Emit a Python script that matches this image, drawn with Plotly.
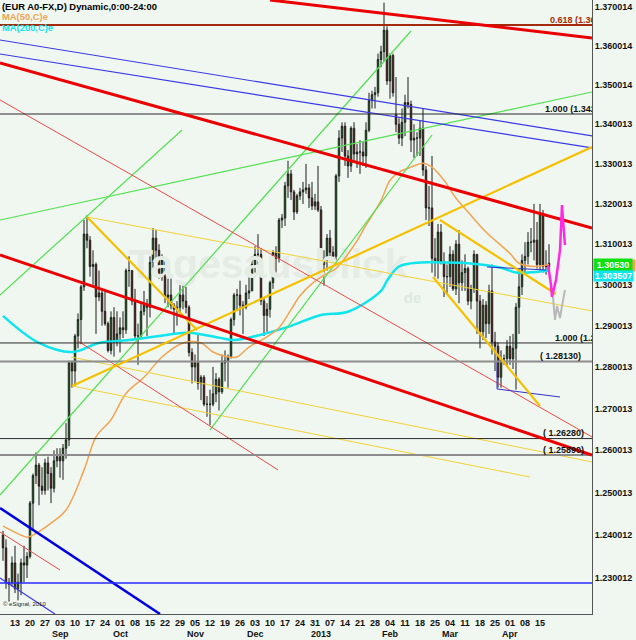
import numpy as np
import pandas as pd
import plotly.graph_objects as go

# ---------------- DATA ----------------
dates = pd.bdate_range("2012-08-08", "2013-04-19")   # daily EUR/USD candles

opens = [
    # Aug
    1.2400,1.2370,1.2290,1.2290,1.2335,1.2275,1.2290,1.2335,1.2330,1.2350,1.2475,1.2540,1.2565,1.2515,1.2505,1.2570,1.2545,1.2510,
    # Sep
    1.2575,1.2585,1.2575,1.2605,1.2625,1.2810,1.2790,1.2875,1.2915,1.2995,1.3125,1.3110,1.3045,1.3050,1.2970,1.2980,1.2935,1.2905,1.2840,1.2920,
    # Oct
    1.2860,1.2880,1.2895,1.2890,1.3035,1.3035,1.2960,1.2875,1.2875,1.2935,1.2950,1.2945,1.3055,1.3115,1.3085,1.3025,1.3060,1.2970,1.2975,1.2950,1.2940,1.2945,1.2975,
    # Nov
    1.2960,1.2945,1.2835,1.2800,1.2810,1.2760,1.2775,1.2710,1.2710,1.2710,1.2735,1.2770,1.2740,1.2810,1.2815,1.2825,1.2915,1.2975,1.2975,1.2950,1.2945,1.2980,
    # Dec
    1.2985,1.3050,1.3075,1.3075,1.2960,1.2925,1.2940,1.3005,1.3080,1.3065,1.3160,1.3165,1.3245,1.3275,1.3230,1.3180,1.3220,1.3230,1.3235,1.3240,1.3215,
    # Jan + Feb 1
    1.3195,1.3205,1.3185,1.3050,1.3065,1.3115,1.3080,1.3070,1.3270,1.3365,1.3395,1.3320,1.3295,1.3390,1.3325,1.3330,1.3330,1.3320,1.3385,1.3460,1.3475,1.3480,1.3565,1.3585,
    # Feb (from 4th) + Mar 1
    1.3640,1.3510,1.3575,1.3425,1.3400,1.3365,1.3405,1.3455,1.3450,1.3360,1.3365,1.3365,1.3390,1.3285,1.3190,1.3190,1.3065,1.3055,1.3130,1.3055,
    # Mar (from 4th)
    1.3020,1.3020,1.3075,1.2990,1.3100,1.3005,1.3030,1.3040,1.2960,1.2990,1.3075,1.2960,1.2885,1.2950,1.2905,1.2985,1.2860,1.2850,1.2775,1.2820,
    # Apr
    1.2820,1.2850,1.2820,1.2845,1.2945,1.2995,1.3060,1.3070,1.3105,1.3105,1.3110,1.3050,1.3175,1.3045,1.3045,
]
highs = [
    1.2410,1.2390,1.2300,1.2350,1.2375,1.2310,1.2345,1.2375,1.2360,1.2480,1.2545,1.2595,1.2570,1.2560,1.2580,1.2585,1.2560,1.2600,
    1.2605,1.2605,1.2615,1.2665,1.2815,1.2815,1.2880,1.2930,1.3000,1.3160,1.3172,1.3120,1.3085,1.3055,1.3035,1.2985,1.2990,1.2910,1.2935,1.2945,
    1.2935,1.2920,1.2935,1.3040,1.3070,1.3035,1.2990,1.2905,1.2955,1.2985,1.2965,1.3070,1.3140,1.3135,1.3100,1.3075,1.3060,1.3015,1.3015,1.2955,1.2960,1.3000,1.3000,
    1.2995,1.2950,1.2845,1.2830,1.2880,1.2780,1.2780,1.2730,1.2745,1.2800,1.2785,1.2775,1.2830,1.2840,1.2830,1.2920,1.2980,1.2990,1.3010,1.2960,1.3000,1.3020,
    1.3070,1.3095,1.3125,1.3090,1.2970,1.2955,1.3010,1.3085,1.3095,1.3165,1.3175,1.3255,1.3308,1.3285,1.3235,1.3225,1.3240,1.3255,1.3300,1.3250,1.3255,
    1.3225,1.3295,1.3195,1.3085,1.3125,1.3135,1.3095,1.3275,1.3385,1.3405,1.3405,1.3335,1.3395,1.3405,1.3350,1.3360,1.3355,1.3405,1.3480,1.3485,1.3495,1.3580,1.3600,1.3711,
    1.3650,1.3580,1.3580,1.3520,1.3415,1.3440,1.3475,1.3520,1.3460,1.3400,1.3380,1.3410,1.3440,1.3295,1.3245,1.3320,1.3115,1.3150,1.3150,1.3080,
    1.3050,1.3095,1.3085,1.3110,1.3135,1.3060,1.3075,1.3045,1.3000,1.3085,1.3075,1.2975,1.2965,1.2960,1.3000,1.3050,1.2885,1.2860,1.2840,1.2830,
    1.2865,1.2875,1.2880,1.2955,1.3040,1.3075,1.3105,1.3130,1.3140,1.3200,1.3155,1.3200,1.3185,1.3085,1.3100,
]
lows = [
    1.2340,1.2275,1.2245,1.2280,1.2265,1.2248,1.2260,1.2290,1.2300,1.2345,1.2410,1.2520,1.2470,1.2495,1.2495,1.2505,1.2475,1.2500,
    1.2560,1.2535,1.2530,1.2580,1.2610,1.2750,1.2755,1.2845,1.2855,1.2985,1.3090,1.3020,1.3000,1.2880,1.2960,1.2900,1.2900,1.2835,1.2830,1.2825,
    1.2850,1.2835,1.2870,1.2880,1.2995,1.2950,1.2870,1.2805,1.2870,1.2925,1.2875,1.2920,1.3040,1.3060,1.3015,1.3010,1.2955,1.2945,1.2940,1.2880,1.2900,1.2930,1.2940,
    1.2930,1.2825,1.2760,1.2765,1.2745,1.2720,1.2705,1.2680,1.2660,1.2705,1.2715,1.2695,1.2735,1.2765,1.2750,1.2820,1.2900,1.2940,1.2925,1.2880,1.2940,1.2965,
    1.2985,1.3030,1.3050,1.2950,1.2875,1.2885,1.2920,1.2990,1.3030,1.3055,1.3140,1.3145,1.3215,1.3210,1.3160,1.3175,1.3210,1.3200,1.3225,1.3190,1.3185,
    1.3185,1.3180,1.3045,1.2998,1.3035,1.3065,1.3035,1.3050,1.3255,1.3330,1.3295,1.3265,1.3280,1.3305,1.3290,1.3275,1.3295,1.3290,1.3380,1.3440,1.3440,1.3470,1.3545,1.3560,
    1.3500,1.3465,1.3470,1.3380,1.3350,1.3345,1.3370,1.3440,1.3330,1.3315,1.3320,1.3320,1.3270,1.3160,1.3145,1.3030,1.3020,1.3015,1.3050,1.2970,
    1.2975,1.2995,1.2985,1.2975,1.2955,1.2985,1.2985,1.2950,1.2940,1.2980,1.2880,1.2845,1.2865,1.2870,1.2880,1.2830,1.2790,1.2750,1.2750,1.2805,
    1.2800,1.2805,1.2795,1.2745,1.2880,1.2975,1.3025,1.3050,1.3080,1.3060,1.3040,1.3035,1.3030,1.3025,1.3040,
]
closes = [
    1.2370,1.2290,1.2285,1.2335,1.2275,1.2290,1.2335,1.2330,1.2350,1.2475,1.2540,1.2565,1.2515,1.2505,1.2570,1.2545,1.2510,1.2575,
    1.2585,1.2575,1.2605,1.2625,1.2810,1.2790,1.2875,1.2915,1.2995,1.3125,1.3110,1.3045,1.3050,1.2970,1.2980,1.2935,1.2905,1.2840,1.2920,1.2860,
    1.2880,1.2895,1.2890,1.3035,1.3035,1.2960,1.2875,1.2875,1.2935,1.2950,1.2945,1.3055,1.3115,1.3085,1.3025,1.3060,1.2970,1.2975,1.2950,1.2940,1.2945,1.2975,1.2960,
    1.2945,1.2835,1.2800,1.2810,1.2760,1.2775,1.2710,1.2710,1.2710,1.2735,1.2770,1.2740,1.2810,1.2815,1.2825,1.2915,1.2975,1.2975,1.2950,1.2945,1.2980,1.2985,
    1.3050,1.3075,1.3075,1.2960,1.2925,1.2940,1.3005,1.3080,1.3065,1.3160,1.3165,1.3245,1.3275,1.3230,1.3180,1.3220,1.3230,1.3235,1.3240,1.3215,1.3195,
    1.3205,1.3185,1.3050,1.3065,1.3115,1.3080,1.3070,1.3270,1.3365,1.3395,1.3320,1.3295,1.3390,1.3325,1.3330,1.3330,1.3320,1.3385,1.3460,1.3475,1.3480,1.3565,1.3585,1.3640,
    1.3510,1.3575,1.3480,1.3400,1.3365,1.3405,1.3455,1.3450,1.3360,1.3365,1.3365,1.3390,1.3285,1.3190,1.3190,1.3065,1.3055,1.3130,1.3055,1.3020,
    1.3020,1.3075,1.2990,1.3100,1.3005,1.3030,1.3040,1.2960,1.2990,1.3075,1.2960,1.2885,1.2950,1.2905,1.2985,1.2860,1.2850,1.2775,1.2820,1.2820,
    1.2850,1.2820,1.2845,1.2945,1.2995,1.3060,1.3070,1.3105,1.3105,1.3110,1.3050,1.3175,1.3045,1.3045,1.3053,
]

# moving averages (trading-day index from 13 Aug 2012, value)
ma50_idx = [-3, 3, 5, 7, 13, 18, 24, 28, 33, 38, 44, 50, 57, 63, 67, 72, 75, 79, 85, 89, 93,
            96, 100, 105, 108, 114, 118, 123, 126, 129, 133, 137, 140, 144, 148, 152, 158, 166, 169, 174, 179]
ma50_val = [1.2421, 1.2400, 1.2395, 1.2400, 1.2428, 1.2459, 1.2553, 1.2632, 1.2673, 1.2736, 1.2775,
            1.2824, 1.2858, 1.2858, 1.2836, 1.2824, 1.2824, 1.2848, 1.2873, 1.2895, 1.2939, 1.2973,
            1.3003, 1.3028, 1.3040, 1.3097, 1.3147, 1.3208, 1.3259, 1.3279, 1.3292, 1.3302, 1.3292,
            1.3259, 1.3214, 1.3180, 1.3130, 1.3077, 1.3053, 1.3045, 1.3050]
ma200_idx = [-3, 9, 20, 29, 39, 52, 59, 69, 74, 83, 92, 103, 112, 123, 125, 129, 136, 143, 152, 163, 168, 172, 179]
ma200_val = [1.2924, 1.2858, 1.2836, 1.2858, 1.2865, 1.2878, 1.2883, 1.2871, 1.2865, 1.2878, 1.2897,
             1.2926, 1.2934, 1.2985, 1.3010, 1.3045, 1.3055, 1.3055, 1.3053, 1.3042, 1.3030, 1.3030, 1.3035]

# x tick labels (Mondays) and month captions
day_tick_labels = ["13", "20", "27", "03", "10", "17", "24", "01", "08", "15", "22", "29",
                   "05", "12", "19", "26", "03", "10", "17", "24", "31", "07", "14", "21",
                   "28", "04", "11", "18", "25", "04", "11", "18", "25", "01", "08", "15"]
month_labels = ["Sep", "Oct", "Nov", "Dec", "2013", "Feb", "Mar", "Apr"]
month_label_idx = [15, 35, 60, 80, 102, 125, 145, 165]

# y tick labels
y_tick_vals = [1.370014, 1.360014, 1.350014, 1.340013, 1.330013, 1.320013, 1.310013, 1.300013,
               1.290013, 1.280013, 1.270013, 1.260013, 1.250013, 1.240012, 1.230012]
y_tick_text = ["1.370014", "1.360014", "1.350014", "1.340013", "1.330013", "1.320013", "1.310013",
               "1.300013", "1.290013", "1.280013", "1.270013", "1.260013", "1.250013", "1.240012",
               "1.230012"]

# horizontal levels
level_values = [1.36535, 1.34260, 1.28580, 1.28130, 1.26280, 1.25890]
level_texts = ["0.618 (1.36540)", "1.000 (1.34260)", "1.000 (1.28580)", "( 1.28130)", "( 1.26280)", "( 1.25890)"]
level_text_idx = [179.3, 177.7, 181, 176, 177, 177]
blue_level = 1.22884

# trendlines: (trading-day index, price)
red_thick_lines = [[(86, 1.37181), (193.33, 1.36200)],
                   [(-4, 1.35559), (193.33, 1.31401)],
                   [(-4, 1.30733), (193.33, 1.25889)]]
red_thin_lines = [[(-4, 1.34616), (193.33, 1.26318)],
                  [(22, 1.28628), (88.67, 1.25533)],
                  [(-4, 1.24072), (16, 1.23185)]]
blue_thin_lines = [[(-4, 1.36149), (193.33, 1.33704)],
                   [(-4, 1.35790), (193.33, 1.33402)],
                   [(-4, 1.23000), (14.33, 1.22166)]]
blue_thick_lines = [[(-4, 1.24636), (49.33, 1.22166)]]
blue_box_lines = [[(158.33, 1.30438), (178, 1.30364)],
                  [(161.67, 1.28119), (161.67, 1.27468), (182.67, 1.27275)]]
green_lines = [[(-4, 1.31600), (193.33, 1.34819)],
               [(-4, 1.29750), (56.67, 1.33856)],
               [(-4, 1.24942), (133, 1.36381)],
               [(66, 1.26485), (140, 1.33729)]]
gold_thick_lines = [[(20, 1.27540), (193.33, 1.33427)],
                    [(25, 1.31675), (61.67, 1.28895)],
                    [(142.67, 1.31600), (181.3, 1.29774)],
                    [(140.33, 1.30192), (176, 1.27059)]]
gold_thin_lines = [[(25, 1.31675), (193.33, 1.29359)],
                   [(20, 1.27540), (172.67, 1.25367)],
                   [(19.67, 1.28240), (193.33, 1.25723)]]
pink_proj_idx = [178.67, 179.67, 180, 181.33, 182.67, 183.33, 183.67, 184.33]
pink_proj_val = [1.30487, 1.29995, 1.29701, 1.30118, 1.30857, 1.31973, 1.31600, 1.30980]
gray_proj_idx = [180.33, 181, 181.67, 182.67, 183.33, 184.33]
gray_proj_val = [1.29701, 1.29140, 1.29481, 1.29188, 1.29481, 1.29873]

last_close_label = "1.30530"
ma200_label = "1.303507"

# ---------------- FIGURE ----------------
assert len(opens) == len(highs) == len(lows) == len(closes) == len(dates)
x_idx = np.arange(len(dates)) - 3          # 13 Aug 2012 -> 0
X0, X1 = -4, 193.33
FONT = "Liberation Sans, Arial, sans-serif"

fig = go.Figure()

# watermark (behind everything)
fig.add_trace(go.Scatter(x=[85.3], y=[1.3041], mode="text", text=["<b>Tagesausblick</b>"],
                         textfont=dict(size=41, color="#e5ece5", family=FONT),
                         hoverinfo="skip", showlegend=False))
fig.add_trace(go.Scatter(x=[133.5], y=[1.2965], mode="text", text=["<b>de</b>"],
                         textfont=dict(size=15, color="#dfe8df", family=FONT),
                         hoverinfo="skip", showlegend=False))

fig.add_trace(go.Candlestick(
    x=x_idx, open=opens, high=highs, low=lows, close=closes,
    increasing=dict(fillcolor="#10aa10", line=dict(color="#1c1c1c", width=1)),
    decreasing=dict(fillcolor="#a81818", line=dict(color="#1c1c1c", width=1)),
    whiskerwidth=0, hoverinfo="skip", showlegend=False))

def add_line(pts, color, width):
    fig.add_trace(go.Scatter(x=[p[0] for p in pts], y=[p[1] for p in pts], mode="lines",
                             line=dict(color=color, width=width), hoverinfo="skip",
                             showlegend=False))

def add_hline(v, color, width):
    add_line([(X0, v), (X1, v)], color, width)

# moving averages
fig.add_trace(go.Scatter(x=ma200_idx, y=ma200_val, mode="lines", line=dict(color="#10e4ec", width=2.5, shape="spline"),
                         hoverinfo="skip", showlegend=False))
fig.add_trace(go.Scatter(x=ma50_idx, y=ma50_val, mode="lines", line=dict(color="#f2a452", width=1.5, shape="spline"),
                         hoverinfo="skip", showlegend=False))

for pts in gold_thin_lines:
    add_line(pts, "#f2d23a", 1)
for pts in green_lines:
    add_line(pts, "#52e052", 1.2)
for pts in red_thin_lines:
    add_line(pts, "#f04848", 1)
for pts in blue_thin_lines:
    add_line(pts, "#3a3ae6", 1.2)
for pts in blue_box_lines:
    add_line(pts, "#3030c8", 1)
for pts in blue_thick_lines:
    add_line(pts, "#0000e0", 2.5)
add_hline(blue_level, "#2a2aff", 1.5)

# fib / support levels
level_styles = [("#a32a0c", 2), ("#2a2a2a", 1), ("#2a2a2a", 1), ("#8c8c8c", 2), ("#2a2a2a", 1), ("#8c8c8c", 2)]
for v, (c, w) in zip(level_values, level_styles):
    add_hline(v, c, w)

for pts in gold_thick_lines:
    add_line(pts, "#f5c000", 2.2)
for pts in red_thick_lines:
    add_line(pts, "#ea0000", 3)

fig.add_trace(go.Scatter(x=gray_proj_idx, y=gray_proj_val, mode="lines", line=dict(color="#b8b8b8", width=2),
                         hoverinfo="skip", showlegend=False))
fig.add_trace(go.Scatter(x=pink_proj_idx, y=pink_proj_val, mode="lines", line=dict(color="#ff28e6", width=2.5),
                         hoverinfo="skip", showlegend=False))

# level captions (clipped at the plot edge like the original)
level_text_colors = ["#a32a0c", "#111111", "#111111", "#111111", "#111111", "#111111"]
fig.add_trace(go.Scatter(x=level_text_idx, y=level_values, mode="text",
                         text=[f"<b>{t}</b>" for t in level_texts], textposition="top right",
                         textfont=dict(size=9, color=level_text_colors, family=FONT),
                         cliponaxis=True, hoverinfo="skip", showlegend=False))

annotations = []
# header
for txt, col, ys in [("(EUR A0-FX,D) Dynamic,0:00-24:00", "#000000", -6),
                     ("MA(50,C)e", "#f2a452", -16), ("MA(200,C)e", "#10e4ec", -27)]:
    annotations.append(dict(text=f"<b>{txt}</b>", xref="paper", yref="paper", x=0, y=1, xanchor="left",
                            yanchor="middle", xshift=0, yshift=ys, showarrow=False,
                            font=dict(size=9.4, color=col, family=FONT)))
# month captions
for lab, i in zip(month_labels, month_label_idx):
    annotations.append(dict(text=f"<b>{lab}</b>", xref="x", yref="paper", x=i + 1, y=0, yanchor="middle",
                            yshift=-20, showarrow=False, font=dict(size=9, color="#111111", family=FONT)))
# copyright
annotations.append(dict(text="© eSignal, 2010", xref="paper", yref="paper", x=0, y=0, xanchor="left",
                        yanchor="bottom", xshift=1, yshift=5, showarrow=False,
                        font=dict(size=6, color="#222222", family=FONT)))
# right price boxes
annotations.append(dict(text=" ", xref="paper", yref="y", x=1, y=np.log10(1.3050), xanchor="left", yanchor="middle",
                        xshift=3, yshift=-1, width=39, height=11, bgcolor="#f2a452", borderpad=0, showarrow=False,
                        font=dict(size=9, family=FONT)))
annotations.append(dict(text=f"<b>{ma200_label}</b>", xref="paper", yref="y", x=1, y=np.log10(1.3035),
                        xanchor="left", yanchor="middle", xshift=1, yshift=-5, width=39, height=11,
                        bgcolor="#10e4ec", borderpad=0, showarrow=False,
                        font=dict(size=9, color="#ffffff", family=FONT)))
annotations.append(dict(text=f"<b>{last_close_label}</b>", xref="paper", yref="y", x=1, y=np.log10(1.3053),
                        xanchor="left", yanchor="middle", xshift=1, yshift=-1, width=38, height=11,
                        bgcolor="#10e010", borderpad=0, showarrow=False,
                        font=dict(size=9, color="#ffffff", family=FONT)))

BG = "#f0f7f0"
fig.update_layout(
    width=636, height=640,
    margin=dict(l=0, r=44, t=0, b=26, pad=0),
    paper_bgcolor=BG, plot_bgcolor=BG,
    showlegend=False, hovermode=False,
    annotations=annotations,
    xaxis=dict(range=[X0, X1], rangeslider=dict(visible=False), showgrid=False, zeroline=False,
               showline=True, linecolor="#555555", linewidth=1,
               tickvals=[i * 5 + 1 for i in range(len(day_tick_labels))], ticktext=day_tick_labels,
               ticks="", tickfont=dict(size=9, color="#111111", family=FONT, weight="bold")),
    yaxis=dict(type="log", side="right", range=[np.log10(1.22166), np.log10(1.37181)],
               showgrid=False, zeroline=False, showline=True, linecolor="#555555", linewidth=1,
               tickvals=y_tick_vals, ticktext=y_tick_text, ticks="",
               tickfont=dict(size=9, color="#111111", family=FONT, weight="bold")),
)

fig.write_html("out.html", config={"displayModeBar": False},
               post_script="document.body.style.margin='0px';document.body.style.padding='0px';"
                           "document.documentElement.style.overflow='hidden';"
                           "document.body.style.background='" + BG + "';")
